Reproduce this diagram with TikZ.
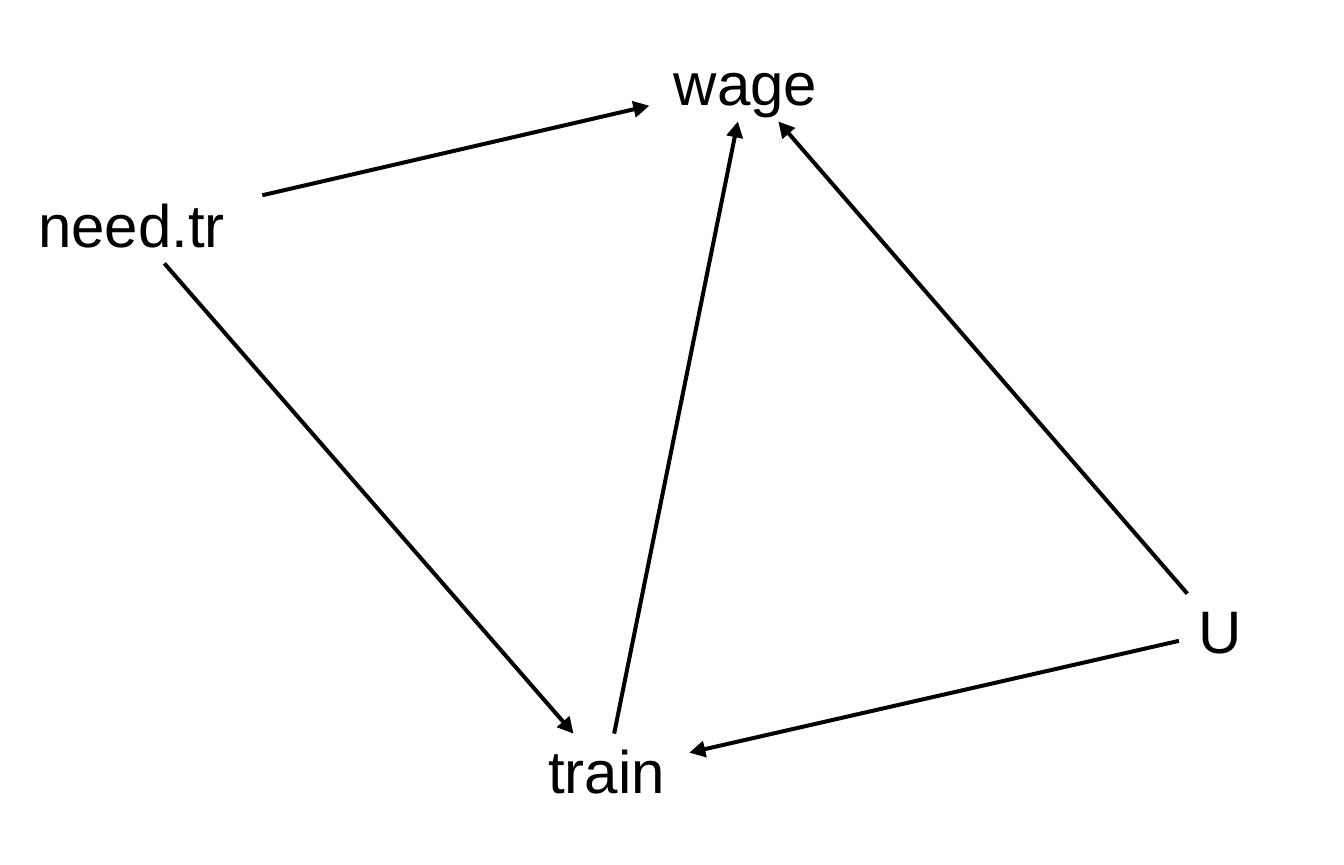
\documentclass[tikz,border=0pt]{standalone}
\usepackage{fontspec}
\setmainfont{Liberation Sans}
\usepackage{tikz}
\usetikzlibrary{arrows.meta}
\tikzset{
  var/.style={ font=\fontsize{30}{36}\selectfont, text height=21.5pt, text depth=0pt, inner xsep=12pt, inner ysep=8pt }
}
\tikzset{
  dagedge/.style={ line width=2pt, -{Triangle[length=8pt, width=8pt]} }
}

\begin{document}
\begin{tikzpicture}[x=0.5pt, y=-0.5pt]
      \useasboundingbox (0, 0) rectangle (1344, 864);
      \node[var] (wage) at (745.5, 83.5) {wage};
      \node[var, inner xsep=18.5pt] (needtr) at (131.5, 225.5) {need.tr};
      \node[var] (train) at (606.5, 771.5) {train};
      \node[var, inner xsep=9.5pt] (U) at (1220, 631.5) {U};

      \draw[dagedge] (needtr) edge (wage);
      \draw[dagedge] (needtr) edge (train);

      \draw[dagedge] (train) edge (wage);

      \draw[dagedge] (U) edge (wage);
      \draw[dagedge] (U) edge (train);
    \end{tikzpicture}
\end{document}
